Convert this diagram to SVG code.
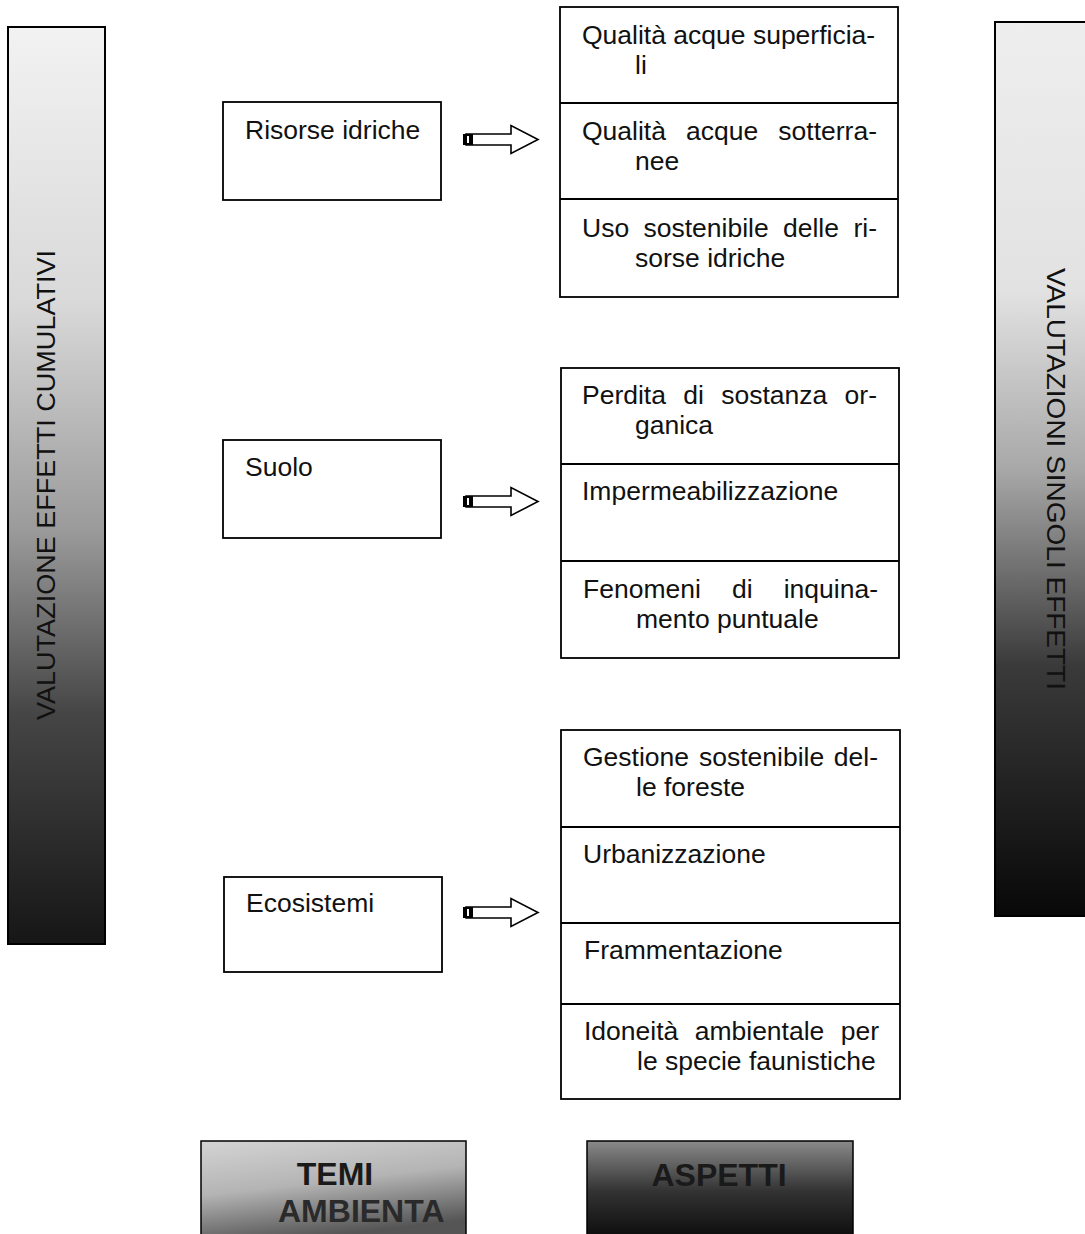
<svg xmlns="http://www.w3.org/2000/svg" width="1085" height="1234" viewBox="0 0 1085 1234">
<style>
.box{fill:#fff;stroke:#000;stroke-width:1.8}
.div{stroke:#000;stroke-width:1.8}
.t{font-family:"Liberation Sans",Arial,sans-serif;font-size:26.5px;fill:#111}
.e{text-anchor:end}
.b{font-family:"Liberation Sans",Arial,sans-serif;font-size:32px;font-weight:bold}
.v{font-family:"Liberation Sans",Arial,sans-serif;font-size:26px;fill:#111}
.arr{fill:#fff;stroke:#000;stroke-width:1.6}
</style>
<defs>
<linearGradient id="gl" x1="0" y1="0" x2="0" y2="1">
<stop offset="0" stop-color="#f2f2f2"/>
<stop offset="0.3" stop-color="#d9d9d9"/>
<stop offset="0.55" stop-color="#9a9a9a"/>
<stop offset="0.75" stop-color="#454545"/>
<stop offset="1" stop-color="#161616"/>
</linearGradient>
<linearGradient id="gr" x1="0" y1="0" x2="0" y2="1">
<stop offset="0" stop-color="#eeeeee"/>
<stop offset="0.3" stop-color="#e2e2e2"/>
<stop offset="0.5" stop-color="#a8a8a8"/>
<stop offset="0.72" stop-color="#3a3a3a"/>
<stop offset="1" stop-color="#080808"/>
</linearGradient>
<linearGradient id="gt" x1="0" y1="0" x2="0.3" y2="1">
<stop offset="0" stop-color="#d4d4d4"/>
<stop offset="0.5" stop-color="#b4b4b4"/>
<stop offset="1" stop-color="#555"/>
</linearGradient>
<linearGradient id="ga" x1="0" y1="0" x2="0" y2="1">
<stop offset="0" stop-color="#8a8a8a"/>
<stop offset="0.5" stop-color="#333"/>
<stop offset="1" stop-color="#0a0a0a"/>
</linearGradient>
<g id="arrow">
<path class="arr" d="M466,134 H511 V125.5 L538,139.5 L511,153.5 V145 H466 Z"/>
<rect x="463" y="134" width="10" height="11" fill="#000"/>
<rect x="467" y="136" width="2" height="7" fill="#fff"/>
</g>
</defs>

<g id="bar-left">
<rect x="8" y="27" width="97" height="917" fill="url(#gl)" stroke="#000" stroke-width="2"/>
<text class="v" transform="translate(55,720) rotate(-90)" textLength="470" lengthAdjust="spacingAndGlyphs">VALUTAZIONE EFFETTI CUMULATIVI</text>
</g>
<g id="bar-right">
<rect x="995" y="22" width="92" height="894" fill="url(#gr)" stroke="#000" stroke-width="2"/>
<text class="v" transform="translate(1047,268) rotate(90)" textLength="422" lengthAdjust="spacingAndGlyphs">VALUTAZIONI SINGOLI EFFETTI</text>
</g>

<g id="tema-risorse">
<rect class="box" x="223" y="102" width="218" height="98"/>
<text class="t" x="245" y="139">Risorse idriche</text>
</g>
<g id="tema-suolo">
<rect class="box" x="223" y="440" width="218" height="98"/>
<text class="t" x="245" y="476">Suolo</text>
</g>
<g id="tema-ecosistemi">
<rect class="box" x="224" y="877" width="218" height="95"/>
<text class="t" x="246" y="912">Ecosistemi</text>
</g>

<g id="connectors">
<use href="#arrow"/>
<use href="#arrow" y="362"/>
<use href="#arrow" y="773"/>
</g>

<g id="aspetti-risorse">
<rect class="box" x="560" y="7" width="338" height="290"/>
<line class="div" x1="560" y1="103" x2="898" y2="103"/>
<line class="div" x1="560" y1="199" x2="898" y2="199"/>
<text class="t" x="582" y="44">Qualità acque superficia-</text>
<text class="t" x="635" y="74">li</text>
<text class="t" x="582" y="140">Qualità</text>
<text class="t" x="686" y="140">acque</text>
<text class="t e" x="877" y="140">sotterra-</text>
<text class="t" x="635" y="170">nee</text>
<text class="t" x="582" y="237">Uso</text>
<text class="t" x="643.5" y="237">sostenibile</text>
<text class="t" x="783" y="237">delle</text>
<text class="t e" x="877" y="237">ri-</text>
<text class="t" x="635" y="267">sorse idriche</text>
</g>

<g id="aspetti-suolo">
<rect class="box" x="561" y="368" width="338" height="290"/>
<line class="div" x1="561" y1="464" x2="899" y2="464"/>
<line class="div" x1="561" y1="561" x2="899" y2="561"/>
<text class="t" x="582" y="404">Perdita</text>
<text class="t" x="683.3" y="404">di</text>
<text class="t" x="721.2" y="404">sostanza</text>
<text class="t e" x="877" y="404">or-</text>
<text class="t" x="635" y="434">ganica</text>
<text class="t" x="582" y="500">Impermeabilizzazione</text>
<text class="t" x="583" y="598">Fenomeni</text>
<text class="t" x="732" y="598">di</text>
<text class="t e" x="878" y="598">inquina-</text>
<text class="t" x="636" y="628">mento puntuale</text>
</g>

<g id="aspetti-ecosistemi">
<rect class="box" x="561" y="730" width="339" height="369"/>
<line class="div" x1="561" y1="827" x2="900" y2="827"/>
<line class="div" x1="561" y1="923" x2="900" y2="923"/>
<line class="div" x1="561" y1="1004" x2="900" y2="1004"/>
<text class="t" x="583" y="766">Gestione</text>
<text class="t" x="699" y="766">sostenibile</text>
<text class="t e" x="878" y="766">del-</text>
<text class="t" x="636" y="796">le foreste</text>
<text class="t" x="583" y="863">Urbanizzazione</text>
<text class="t" x="584" y="959">Frammentazione</text>
<text class="t" x="584" y="1040">Idoneità</text>
<text class="t" x="694.7" y="1040">ambientale</text>
<text class="t e" x="879" y="1040">per</text>
<text class="t" x="637" y="1070">le specie faunistiche</text>
</g>

<g id="label-temi">
<rect x="201" y="1141" width="265" height="100" fill="url(#gt)" stroke="#000" stroke-width="1.5"/>
<text class="b" x="335" y="1185" text-anchor="middle" fill="#1a1a1a">TEMI</text>
<text class="b" x="278" y="1222" fill="#2a2a2a">AMBIENTA</text>
</g>
<g id="label-aspetti">
<rect x="587" y="1141" width="266" height="100" fill="url(#ga)" stroke="#000" stroke-width="1.5"/>
<text class="b" x="719" y="1186" text-anchor="middle" fill="#1a1a1a">ASPETTI</text>
</g>
</svg>
